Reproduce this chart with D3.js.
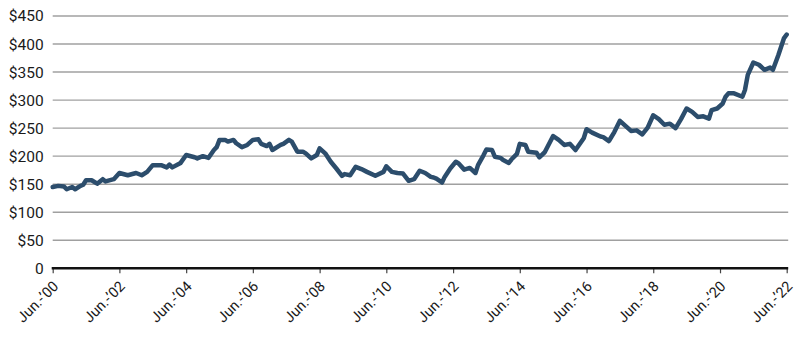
<!DOCTYPE html>
<html>
<head>
<meta charset="utf-8">
<script src="https://cdn.jsdelivr.net/npm/d3@7"></script>
<style>
  html, body { margin: 0; padding: 0; background: #fff; }
  svg { display: block; }
  text { font-family: Roboto, "Noto Sans", sans-serif; fill: #1a1a1a; }
</style>
</head>
<body>
<svg id="chart" width="800" height="340"></svg>
<script>
// Monthly observation dates (YYYY-MM) and price in dollars
const months = [
  "2000-06","2000-08","2000-10","2000-11","2001-01","2001-02","2001-04","2001-05","2001-06","2001-08",
  "2001-10","2001-12","2002-01","2002-04","2002-06","2002-09","2002-12","2003-02","2003-04","2003-06",
  "2003-09","2003-11","2003-12","2004-01","2004-04","2004-06","2004-09","2004-10","2004-12","2005-02",
  "2005-04","2005-05","2005-06","2005-08","2005-09","2005-11","2005-12","2006-02","2006-04","2006-06",
  "2006-08","2006-09","2006-11","2006-12","2007-01","2007-04","2007-05","2007-07","2007-08","2007-10",
  "2007-12","2008-01","2008-03","2008-05","2008-06","2008-08","2008-10","2008-12","2009-02","2009-03",
  "2009-05","2009-07","2009-09","2009-11","2010-02","2010-05","2010-06","2010-08","2010-10","2010-12",
  "2011-02","2011-04","2011-06","2011-08","2011-10","2011-11","2011-12","2012-02","2012-03","2012-05",
  "2012-07","2012-08","2012-10","2012-12","2013-02","2013-03","2013-05","2013-06","2013-08","2013-09",
  "2013-11","2013-12","2014-02","2014-03","2014-05","2014-06","2014-08","2014-09","2014-12","2015-01",
  "2015-03","2015-06","2015-08","2015-10","2015-12","2016-02","2016-05","2016-06","2016-08","2016-11",
  "2016-12","2017-02","2017-04","2017-06","2017-08","2017-10","2017-12","2018-02","2018-04","2018-06",
  "2018-08","2018-10","2018-12","2019-02","2019-04","2019-06","2019-08","2019-10","2019-12","2020-02",
  "2020-03","2020-05","2020-07","2020-08","2020-09","2020-11","2021-02","2021-03","2021-04","2021-06",
  "2021-08","2021-10","2021-12","2022-01","2022-03","2022-05","2022-06"
];
const prices = [
  145,147,146,141,145,141,147,149,157,157,
  151,159,155,159,170,166,170,166,172,184,
  184,180,185,180,188,202,198,196,200,197,
  211,216,229,229,226,229,223,216,220,229,
  230,222,218,222,211,220,222,229,226,208,
  208,205,196,202,214,205,190,178,165,168,
  166,181,177,172,165,172,182,172,170,169,
  156,159,174,170,163,162,160,153,163,178,
  190,187,176,179,170,184,202,212,211,199,
  197,193,188,194,204,222,220,208,206,198,
  207,236,229,220,222,211,232,248,242,235,
  234,227,243,263,254,245,246,239,251,273,
  266,256,258,250,266,285,279,270,271,267,
  282,285,294,306,312,312,306,318,345,367,
  363,354,358,354,380,410,417
];
// Axis ticks
const yTicks = [0, 50, 100, 150, 200, 250, 300, 350, 400, 450];
const xTickYears = [2000, 2002, 2004, 2006, 2008, 2010, 2012, 2014, 2016, 2018, 2020, 2022];

const parseMonth = d3.timeParse("%Y-%m");
const series = months.map((m, i) => ({ date: parseMonth(m), value: prices[i] }));

const svg = d3.select("#chart");
const plotLeft = 52.7, plotRight = 786.7, plotTop = 16, plotBottom = 268.3;

const x = d3.scaleTime()
  .domain([new Date(2000, 5, 1), new Date(2022, 5, 1)])
  .range([plotLeft, plotRight]);
const y = d3.scaleLinear().domain([0, 450]).range([plotBottom, plotTop]);

// Horizontal gridlines
svg.append("g")
  .selectAll("line")
  .data(yTicks.filter(v => v > 0))
  .join("line")
  .attr("x1", plotLeft).attr("x2", plotRight + 1.5)
  .attr("y1", d => y(d)).attr("y2", d => y(d))
  .attr("stroke", "#a0a0a0").attr("stroke-width", 1.4);

// Y axis labels
const yAxis = d3.axisLeft(y)
  .tickValues(yTicks)
  .tickSize(0)
  .tickPadding(9)
  .tickFormat(d => d === 0 ? "0" : "$" + d);
svg.append("g")
  .attr("transform", `translate(${plotLeft},0)`)
  .call(yAxis)
  .call(g => g.select(".domain").remove())
  .call(g => g.selectAll("text")
    .attr("font-size", 15.5)
    .attr("fill", "#1a1a1a")
    .attr("font-family", "Roboto, 'Noto Sans', sans-serif"));

// X axis with rotated labels
const xAxis = d3.axisBottom(x)
  .tickValues(xTickYears.map(yr => new Date(yr, 5, 1)))
  .tickSize(5)
  .tickFormat(d => "Jun.-\u2019" + d3.timeFormat("%y")(d));
svg.append("g")
  .attr("transform", `translate(0,${plotBottom})`)
  .call(xAxis)
  .call(g => g.select(".domain").remove())
  .call(g => g.selectAll(".tick line").attr("stroke", "#444").attr("stroke-width", 1.2))
  .call(g => g.selectAll("text")
    .attr("font-size", 14.5)
    .attr("fill", "#1a1a1a")
    .attr("font-family", "Roboto, 'Noto Sans', sans-serif")
    .attr("text-anchor", "end")
    .attr("dy", null)
    .attr("y", 0)
    .attr("transform", "translate(6,19) rotate(-45)"));

// Baseline at zero
svg.append("line")
  .attr("x1", plotLeft - 1).attr("x2", plotRight + 1.5)
  .attr("y1", y(0)).attr("y2", y(0))
  .attr("stroke", "#111").attr("stroke-width", 2.4);

// Price line
const line = d3.line()
  .x(d => x(d.date))
  .y(d => y(d.value))
  .curve(d3.curveLinear);
svg.append("path")
  .datum(series)
  .attr("fill", "none")
  .attr("stroke", "#2c4d6c")
  .attr("stroke-width", 4.5)
  .attr("stroke-linejoin", "round")
  .attr("stroke-linecap", "round")
  .attr("d", line);
</script>
</body>
</html>
